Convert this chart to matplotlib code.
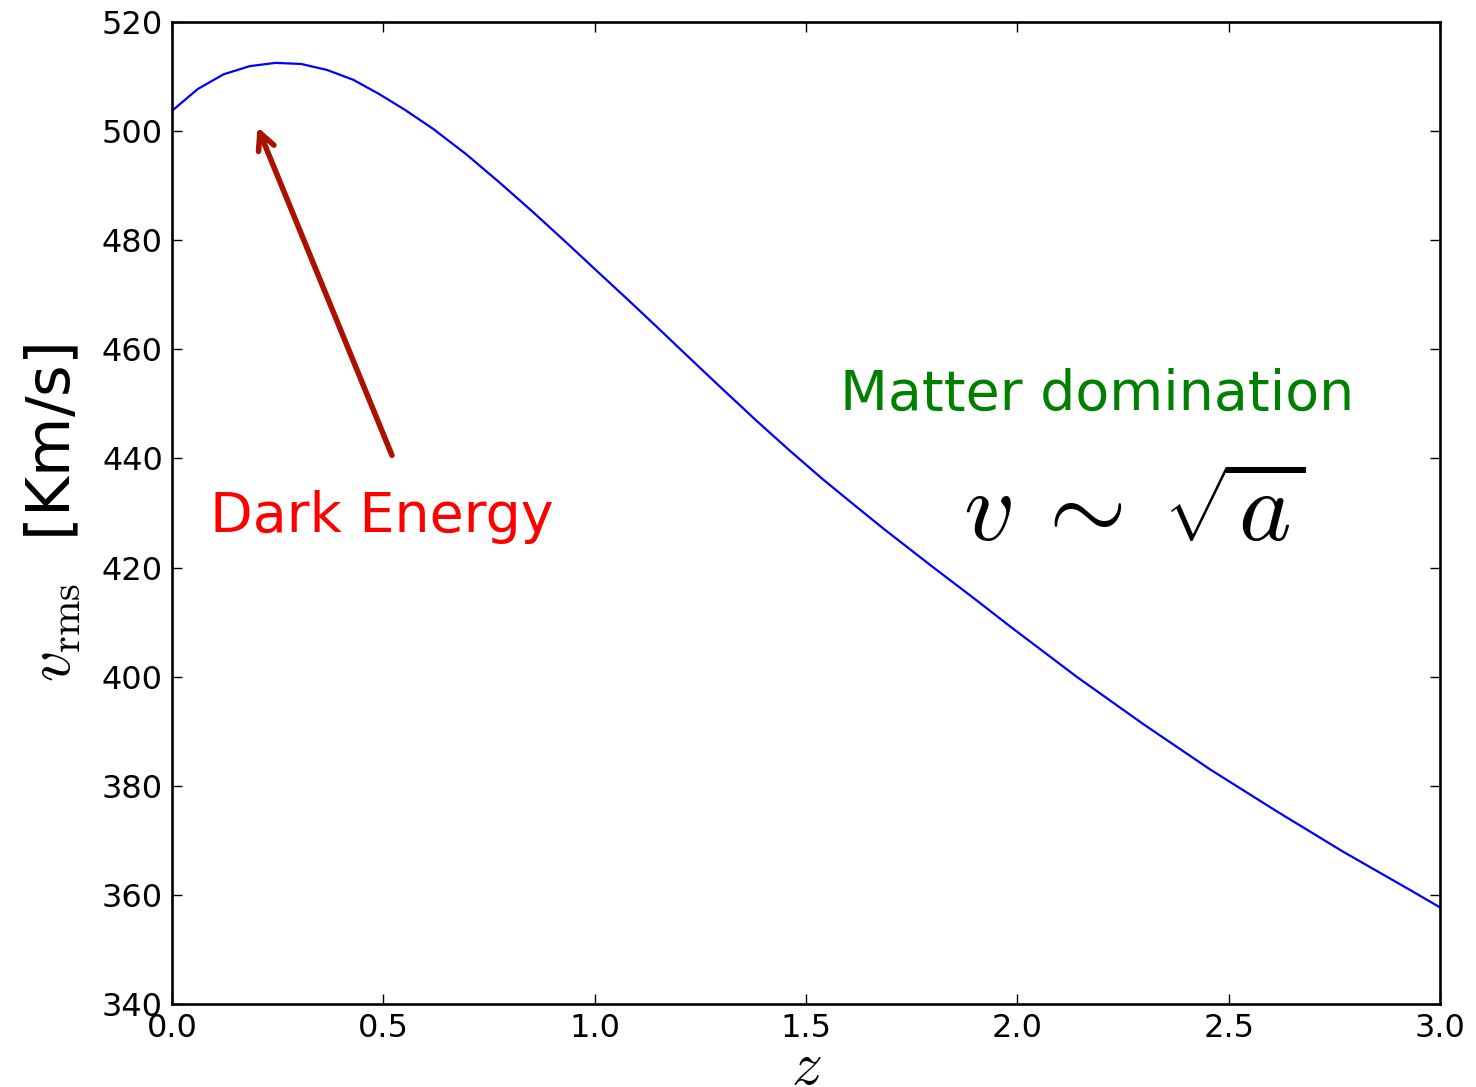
import numpy as np
import matplotlib
matplotlib.use("Agg")
import matplotlib.pyplot as plt

plt.rcParams['mathtext.fontset'] = 'cm'

# rms velocity vs redshift
z = [0.0, 0.061, 0.122, 0.184, 0.245, 0.306, 0.367, 0.429, 0.490, 0.551,
     0.618, 0.697, 0.776, 0.855, 0.934, 1.013, 1.080, 1.150, 1.226, 1.304,
     1.383, 1.462, 1.541, 1.620, 1.687, 1.800, 1.900, 1.983, 2.140, 2.298,
     2.456, 2.614, 2.771, 2.929, 3.0]
v_rms = [503.7, 507.7, 510.4, 511.9, 512.5, 512.3, 511.2, 509.4, 506.8, 503.9,
         500.4, 495.7, 490.5, 485.1, 479.5, 473.8, 469.0, 463.9, 458.3, 452.6,
         446.9, 441.4, 436.1, 431.1, 426.9, 420.1, 414.2, 409.2, 400.0, 391.3,
         383.0, 375.3, 367.9, 360.9, 357.7]

xticks = [0.0, 0.5, 1.0, 1.5, 2.0, 2.5, 3.0]
yticks = [340, 360, 380, 400, 420, 440, 460, 480, 500, 520]

fig = plt.figure(figsize=(14.76, 10.87), dpi=100)
ax = fig.add_axes([0.1165, 0.0764, 0.8591, 0.9034])

ax.plot(z, v_rms, color='blue', lw=1.6)

ax.set_xlim(0, 3)
ax.set_ylim(340, 520)
ax.set_xticks(xticks)
ax.set_xticklabels(['%.1f' % t for t in xticks])
ax.set_yticks(yticks)
ax.tick_params(direction='in', length=7, width=1, top=True, right=True,
               labelsize=23, pad=6.5)
for s in ax.spines.values():
    s.set_linewidth(1.9)

ax.set_xlabel(r'$z$', fontsize=44, labelpad=-4)
ax.set_ylabel(r'$v_{\rm rms}$  [Km/s]', fontsize=44, labelpad=14)

# annotations
ax.annotate('', xy=(0.2, 501.2), xytext=(0.523, 440.1),
            arrowprops=dict(arrowstyle='->', color='#aa1100', lw=4,
                            mutation_scale=30))
ax.text(0.09, 426.5, 'Dark Energy', color='red', fontsize=40,
        ha='left', va='baseline')
ax.text(1.58, 449.0, 'Matter domination', color='green', fontsize=40,
        ha='left', va='baseline')
ax.text(2.276, 430.0, r'$v\:\sim\:\sqrt{a}$', color='black', fontsize=72,
        ha='center', va='center')

plt.savefig('out.png', dpi=100)
